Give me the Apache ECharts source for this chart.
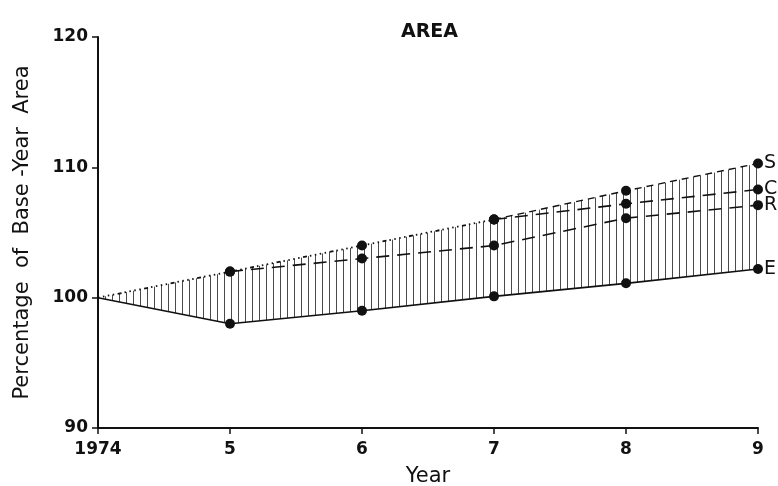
<!DOCTYPE html>
<html>
<head>
<meta charset="utf-8">
<script src="https://cdn.jsdelivr.net/npm/echarts@6/dist/echarts.min.js"></script>
<style>
  html, body { margin: 0; padding: 0; background: #ffffff; }
  #chart { width: 778px; height: 486px; }
</style>
</head>
<body>
<div id="chart"></div>
<script>
// Years on the horizontal axis and their printed labels
const years = [1974, 1975, 1976, 1977, 1978, 1979];
const yearLabels = ['1974', '5', '6', '7', '8', '9'];

// Area as a percentage of the base year (1974 = 100)
const seriesS = [100, 102, 104, 106, 108.2, 110.3];
const seriesC = [100, 102, 104, 106, 107.2, 108.3];
const seriesR = [100, 102, 103, 104, 106.1, 107.1];
const seriesE = [100, 98, 99, 100.1, 101.1, 102.2];

// Vertical tick values on the percentage axis
const yTicks = [90, 100, 110, 120];

const FONT = 'DejaVu Sans, Liberation Sans, Arial, sans-serif';
const INK = '#111111';
const HATCH_STEP = 7;

// [year, value] pairs for a slice of a series
function pairs(arr, from, to) {
  return years.slice(from, to).map((y, i) => [y, arr[from + i]]);
}

// Vertical hatching between the S curve (top) and the E curve (bottom),
// drawn one year-segment at a time
function renderHatch(params, api) {
  const i = params.dataIndex;
  if (i >= years.length - 1) return null;
  const t0 = api.coord([years[i], seriesS[i]]);
  const t1 = api.coord([years[i + 1], seriesS[i + 1]]);
  const b0 = api.coord([years[i], seriesE[i]]);
  const b1 = api.coord([years[i + 1], seriesE[i + 1]]);
  const children = [];
  let x = Math.ceil(t0[0] / HATCH_STEP) * HATCH_STEP;
  for (; x < t1[0]; x += HATCH_STEP) {
    const f = (x - t0[0]) / (t1[0] - t0[0]);
    const yTop = t0[1] + f * (t1[1] - t0[1]);
    const yBot = b0[1] + f * (b1[1] - b0[1]);
    children.push({
      type: 'line',
      shape: { x1: x + 0.5, y1: yTop, x2: x + 0.5, y2: yBot },
      style: { stroke: '#4a4a4a', lineWidth: 1 }
    });
  }
  return { type: 'group', children };
}

const dot = (v) => (v[0] === years[0] ? 0 : 10);

const endLabel = (name) => ({
  show: true,
  formatter: name,
  color: INK,
  fontFamily: FONT,
  fontSize: 19,
  distance: 6
});

const chart = echarts.init(document.getElementById('chart'), null, { renderer: 'canvas' });

chart.setOption({
  animation: false,
  backgroundColor: '#ffffff',
  title: {
    text: 'AREA',
    left: 396,
    top: 18,
    textStyle: { fontFamily: FONT, fontSize: 19, fontWeight: 'bold', color: INK }
  },
  grid: {
    left: 98, right: 20, top: 37, bottom: 58,
    containLabel: false,
    outerBoundsMode: 'none'
  },
  xAxis: {
    type: 'value',
    min: years[0],
    max: years[years.length - 1],
    interval: 1,
    name: 'Year',
    nameLocation: 'middle',
    nameGap: 38,
    nameTextStyle: { fontFamily: FONT, fontSize: 21, color: INK },
    axisLine: { show: true, lineStyle: { color: INK, width: 2 } },
    axisTick: { show: true, length: 6, lineStyle: { color: INK, width: 1.5 } },
    axisLabel: {
      margin: 13,
      fontFamily: FONT, fontSize: 17, fontWeight: 'bold', color: INK,
      formatter: (v) => yearLabels[years.indexOf(v)] || ''
    },
    splitLine: { show: false }
  },
  yAxis: {
    type: 'value',
    min: yTicks[0],
    max: yTicks[yTicks.length - 1],
    interval: 10,
    name: 'Percentage  of  Base -Year  Area',
    nameLocation: 'middle',
    nameGap: 65,
    nameTextStyle: { fontFamily: FONT, fontSize: 21, color: INK },
    axisLine: { show: true, lineStyle: { color: INK, width: 2 } },
    axisTick: { show: true, length: 6, lineStyle: { color: INK, width: 1.5 } },
    axisLabel: {
      margin: 10,
      fontFamily: FONT, fontSize: 17, fontWeight: 'bold', color: INK
    },
    splitLine: { show: false }
  },
  series: [
    {
      type: 'custom', name: 'band', silent: true,
      data: years.map((y, i) => [y, seriesS[i], seriesE[i]]),
      encode: { x: 0, y: [1, 2] },
      renderItem: renderHatch,
      z: 1
    },
    // S (and C, which coincides with it) up to 1977: dotted with crosses
    {
      type: 'line', name: 'S-early',
      data: pairs(seriesS, 0, 4),
      symbol: 'circle', symbolSize: dot,
      itemStyle: { color: INK },
      lineStyle: { color: INK, width: 1.8, type: [1.5, 3.5, 1.5, 3.5, 1.5, 3.5, 1.5, 3.5, 4, 3] },
      z: 3
    },
    {
      type: 'line', name: 'S',
      data: pairs(seriesS, 3, 6),
      symbol: 'circle', symbolSize: dot,
      itemStyle: { color: INK },
      lineStyle: { color: INK, width: 1.4, type: [7, 5] },
      endLabel: endLabel('S'),
      z: 3
    },
    {
      type: 'line', name: 'C',
      data: pairs(seriesC, 3, 6),
      symbol: 'circle', symbolSize: dot,
      itemStyle: { color: INK },
      lineStyle: { color: INK, width: 1.6, type: [13, 8] },
      endLabel: endLabel('C'),
      z: 3
    },
    {
      type: 'line', name: 'R',
      data: pairs(seriesR, 1, 6),
      symbol: 'circle', symbolSize: dot,
      itemStyle: { color: INK },
      lineStyle: { color: INK, width: 1.6, type: [13, 8] },
      endLabel: endLabel('R'),
      z: 3
    },
    {
      type: 'line', name: 'E',
      data: pairs(seriesE, 0, 6),
      symbol: 'circle', symbolSize: dot,
      itemStyle: { color: INK },
      lineStyle: { color: INK, width: 1.6 },
      endLabel: endLabel('E'),
      z: 3
    }
  ]
});
</script>
</body>
</html>
